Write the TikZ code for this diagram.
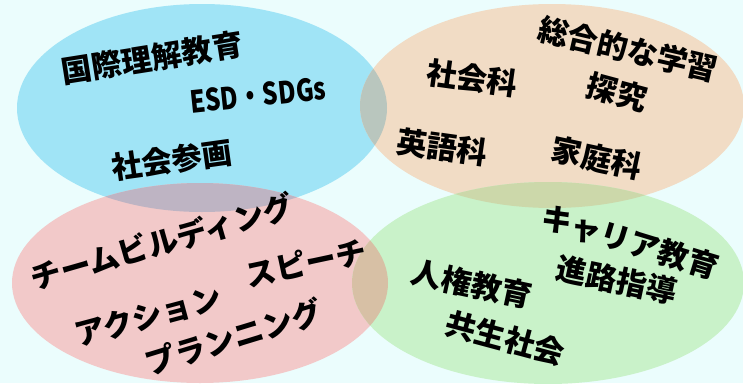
\documentclass[tikz,border=0pt]{standalone}
\usepackage{fontspec}
\newfontfamily\jp{Noto Sans CJK JP}
\definecolor{bgc}{HTML}{EBFDFD}
\definecolor{bluec}{HTML}{A0E4F6}
\definecolor{orangec}{HTML}{F1DCC5}
\definecolor{pinkc}{HTML}{F2C9C9}
\definecolor{greenc}{HTML}{C9F2C9}
\definecolor{bo}{HTML}{B9C6BE}
\definecolor{bp}{HTML}{BEB4C3}
\definecolor{og}{HTML}{CCD8AA}
\definecolor{pg}{HTML}{D7C0A5}
\tikzset{lbl/.style={font=\jp\bfseries\fontsize{30.5}{31}\selectfont, inner sep=0pt, text=black}}
\begin{document}
\begin{tikzpicture}[x=1pt,y=-1pt]
\fill[bgc] (0,0) rectangle (743,383);
\useasboundingbox (0,0) rectangle (743,383);
\def\eB{(202,108) ellipse [x radius=185pt, y radius=104pt]}
\def\eO{(552,106) ellipse [x radius=192pt, y radius=102pt]}
\def\eP{(200,283) ellipse [x radius=188pt, y radius=100pt]}
\def\eG{(548,283) ellipse [x radius=196pt, y radius=101pt]}
\fill[bluec] \eB;
\fill[orangec] \eO;
\fill[pinkc] \eP;
\fill[greenc] \eG;
\begin{scope}\clip \eB; \fill[bo] \eO; \end{scope}
\begin{scope}\clip \eB; \fill[bp] \eP; \end{scope}
\begin{scope}\clip \eO; \fill[og] \eG; \end{scope}
\begin{scope}\clip \eP; \fill[pg] \eG; \end{scope}
% blue
\node[lbl, rotate=9] (t1) at (152,58) {国際理解教育};
\node[lbl, rotate=6] (t2) at (258,95) {\scalebox{0.8}[1]{ESD・SDGs}};
\node[lbl, rotate=8] (t3) at (172,160) {社会参画};
% orange
\node[lbl, rotate=-13] (t4) at (628,49) {総合的な学習};
\node[lbl, rotate=-8] (t5) at (472,78) {社会科};
\node[lbl, rotate=-15] (t6) at (617,92) {探究};
\node[lbl, rotate=-8] (t7) at (442,147) {英語科};
\node[lbl, rotate=-12] (t8) at (597,158) {家庭科};
% pink
\node[lbl, rotate=16] (t9) at (162,242) {チームビルディング};
\node[lbl, rotate=12] (t10) at (306,263) {スピーチ};
\node[lbl, rotate=15] (t11) at (148,316) {アクション};
\node[lbl, rotate=17] (t12) at (234,337) {プランニング};
% green
\node[lbl, rotate=-17] (t13) at (630,242) {キャリア教育};
\node[lbl, rotate=-12] (t14) at (617,280) {進路指導};
\node[lbl, rotate=-12] (t15) at (472,284) {人権教育};
\node[lbl, rotate=-15] (t16) at (505,338) {共生社会};
\end{tikzpicture}
\end{document}
